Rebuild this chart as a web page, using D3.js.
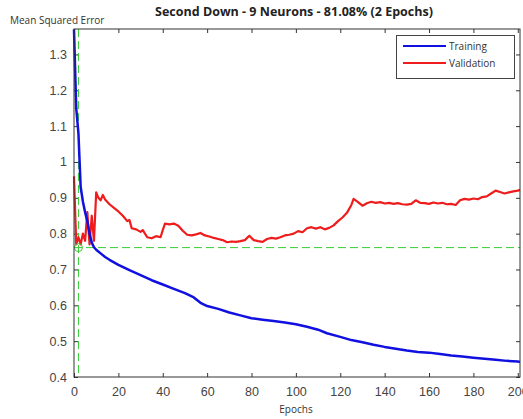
<!DOCTYPE html>
<html><head><meta charset="utf-8">
<script src="https://cdn.jsdelivr.net/npm/d3@7"></script>
<style>body{margin:0;background:#fff}svg{display:block}</style>
</head><body>
<script>
const trainEpochs = [0,1,2,3,4,5,6,7,8,9,10,12,14,16,18,20,25,30,35,40,45,50,54,57,60,65,70,75,80,85,90,95,100,105,110,114,120,125,130,135,140,145,150,155,160,165,170,175,180,185,190,195,200,201];
const trainValues = [1.37,1.15,1.08,0.93,0.89,0.86,0.835,0.80,0.775,0.762,0.755,0.745,0.735,0.727,0.72,0.713,0.698,0.684,0.67,0.658,0.646,0.634,0.622,0.607,0.598,0.59,0.58,0.572,0.564,0.56,0.556,0.552,0.547,0.54,0.532,0.522,0.512,0.503,0.497,0.49,0.484,0.479,0.474,0.47,0.468,0.464,0.46,0.457,0.454,0.451,0.448,0.445,0.443,0.442];
const valEpochs = [0,1,2,3,4,5,6,7,8,9,10,11,12,13,14,16,18,20,22,24,25,26,28,30,31,33,35,37,39,40,41,43,45,47,49,51,53,55,57,59,61,63,65,67,69,71,73,75,77,79,81,83,85,87,89,91,93,95,97,99,101,103,105,107,109,111,113,115,117,119,121,123,125,126,128,130,132,134,136,138,140,142,144,146,148,150,152,154,156,158,160,162,164,166,168,170,172,174,176,178,180,182,184,186,188,190,192,194,196,198,200,201];
const valValues = [0.96,0.77,0.79,0.77,0.80,0.78,0.86,0.77,0.85,0.78,0.915,0.90,0.893,0.908,0.895,0.882,0.872,0.862,0.85,0.835,0.838,0.815,0.812,0.805,0.81,0.79,0.787,0.793,0.79,0.81,0.828,0.826,0.828,0.822,0.808,0.797,0.795,0.798,0.802,0.795,0.792,0.788,0.785,0.782,0.776,0.778,0.777,0.779,0.782,0.794,0.782,0.779,0.777,0.785,0.788,0.786,0.79,0.795,0.797,0.8,0.807,0.804,0.815,0.818,0.814,0.818,0.812,0.816,0.823,0.835,0.845,0.858,0.88,0.897,0.888,0.878,0.885,0.889,0.886,0.888,0.884,0.886,0.883,0.885,0.882,0.881,0.883,0.893,0.886,0.885,0.883,0.887,0.884,0.886,0.882,0.883,0.88,0.893,0.897,0.895,0.898,0.896,0.902,0.904,0.912,0.92,0.916,0.912,0.915,0.918,0.92,0.922];
const bestEpoch = 2;
const bestValue = 0.761;
const xTicks = [0,20,40,60,80,100,120,140,160,180,200];
const yTicks = [0.4,0.5,0.6,0.7,0.8,0.9,1,1.1,1.2,1.3];
const titleText = "Second Down - 9 Neurons - 81.08% (2 Epochs)";
const yLabel = "Mean Squared Error";
const xLabel = "Epochs";
const legendNames = ["Training","Validation"];

const W=523,H=419;
const L=74,R=520,T=29,B=377;
const svg=d3.select("body").append("svg").attr("width",W).attr("height",H);
const x=d3.scaleLinear().domain([0,201]).range([L,R]);
const y=d3.scaleLinear().domain([0.4,1.371]).range([B,T]);
const tickFont='"Liberation Sans", Arial, sans-serif';
const textFont='"Open Sans", "Noto Sans", sans-serif';

const gx=svg.append("g").attr("transform",`translate(0,${B})`)
  .call(d3.axisBottom(x).tickValues(xTicks).tickSizeInner(-4).tickSizeOuter(0).tickPadding(10).tickFormat(d3.format("d")));
const gxt=svg.append("g").attr("transform",`translate(0,${T})`)
  .call(d3.axisTop(x).tickValues(xTicks).tickSizeInner(-4).tickSizeOuter(0).tickFormat(""));
const gy=svg.append("g").attr("transform",`translate(${L},0)`)
  .call(d3.axisLeft(y).tickValues(yTicks).tickSizeInner(-4).tickSizeOuter(0).tickPadding(7).tickFormat(d=>d3.format("")(+d.toFixed(1))));
const gyr=svg.append("g").attr("transform",`translate(${R},0)`)
  .call(d3.axisRight(y).tickValues(yTicks).tickSizeInner(-4).tickSizeOuter(0).tickFormat(""));
[gx,gxt,gy,gyr].forEach(g=>{g.select(".domain").remove();g.selectAll("line").attr("stroke","#333");
  g.selectAll("text").attr("fill","#444").style("font-family",tickFont).style("font-size","12.5px");});

svg.append("line").attr("x1",x(0)).attr("x2",R).attr("y1",y(bestValue)).attr("y2",y(bestValue))
  .attr("stroke","#33cc33").attr("stroke-width",1).attr("stroke-dasharray","8,4");
svg.append("line").attr("x1",x(bestEpoch)).attr("x2",x(bestEpoch)).attr("y1",T).attr("y2",B)
  .attr("stroke","#33cc33").attr("stroke-width",1).attr("stroke-dasharray","8,4");

const line=d3.line().x(d=>x(d[0])).y(d=>y(d[1]));
svg.append("path").datum(valEpochs.map((e,i)=>[e,valValues[i]])).attr("d",line)
  .attr("fill","none").attr("stroke","#ee1c1c").attr("stroke-width",2.2).attr("stroke-linejoin","round");
svg.append("path").datum(trainEpochs.map((e,i)=>[e,trainValues[i]])).attr("d",line)
  .attr("fill","none").attr("stroke","#1010e0").attr("stroke-width",2.5).attr("stroke-linejoin","round");

svg.append("circle").attr("cx",x(bestEpoch)).attr("cy",y(bestValue)).attr("r",4)
  .attr("fill","none").attr("stroke","#33cc33").attr("stroke-width",1);

svg.append("rect").attr("x",L).attr("y",T).attr("width",R-L).attr("height",B-T)
  .attr("fill","none").attr("stroke","#333").attr("stroke-width",1);

const lg=svg.append("g");
lg.append("rect").attr("x",396.5).attr("y",35.5).attr("width",118).attr("height",43)
  .attr("fill","#fff").attr("stroke","#444").attr("stroke-width",1);
const lcol=["#1010e0","#ee1c1c"];
legendNames.forEach((n,i)=>{
  const yy=46+i*17;
  lg.append("line").attr("x1",403).attr("x2",446).attr("y1",yy).attr("y2",yy).attr("stroke",lcol[i]).attr("stroke-width",2);
  lg.append("text").attr("x",449).attr("y",yy+3.5).text(n).attr("fill","#333")
    .style("font-family",textFont).style("font-size","10px");
});

svg.append("text").attr("x",294).attr("y",16).attr("text-anchor","middle").text(titleText)
  .attr("fill","#222").style("font-family",textFont).style("font-size","12.5px").style("font-weight","bold");
svg.append("text").attr("x",10).attr("y",24).text(yLabel)
  .attr("fill","#333").style("font-family",textFont).style("font-size","10px");
svg.append("text").attr("x",296).attr("y",413).attr("text-anchor","middle").text(xLabel)
  .attr("fill","#333").style("font-family",textFont).style("font-size","10px");
</script>
</body></html>
